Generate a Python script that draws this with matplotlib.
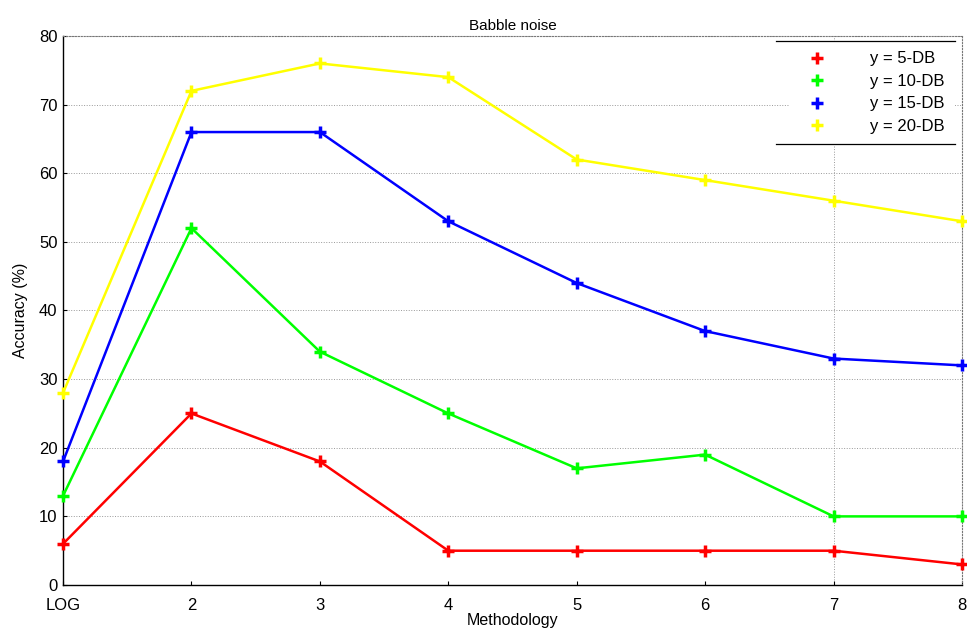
import matplotlib.pyplot as plt
from matplotlib.lines import Line2D

plt.rcParams['font.family'] = ['Liberation Sans', 'DejaVu Sans']

methods = [1, 2, 3, 4, 5, 6, 7, 8]
method_labels = ['LOG', '2', '3', '4', '5', '6', '7', '8']

acc_5db = [6, 25, 18, 5, 5, 5, 5, 3]
acc_10db = [13, 52, 34, 25, 17, 19, 10, 10]
acc_15db = [18, 66, 66, 53, 44, 37, 33, 32]
acc_20db = [28, 72, 76, 74, 62, 59, 56, 53]

series = [
    ('y = 5-DB', acc_5db, '#ff0000'),
    ('y = 10-DB', acc_10db, '#00ff00'),
    ('y = 15-DB', acc_15db, '#0000ff'),
    ('y = 20-DB', acc_20db, '#ffff00'),
]

fig = plt.figure(figsize=(9.67, 6.3), dpi=100)
ax = fig.add_axes([0.0652, 0.0714, 0.9296, 0.8715])

for label, vals, color in series:
    ax.plot(methods, vals, '-', color=color, lw=1.8, marker='+',
            ms=9, mew=2.5, label=label, clip_on=False, zorder=3)

ax.set_xlim(1, 8)
ax.set_ylim(0, 80)
ax.set_xticks(methods)
ax.set_xticklabels(method_labels)
ax.set_yticks(range(0, 81, 10))
ax.tick_params(direction='in', length=3, labelsize=12)
ax.tick_params(axis='x', pad=9)
ax.tick_params(axis='y', pad=4)

# horizontal dotted grid, plus the lone vertical one at 7
ax.yaxis.grid(True, linestyle=':', color='#999999', lw=0.7)
ax.axvline(7, linestyle=':', color='#999999', lw=0.7, zorder=0)
ax.set_axisbelow(True)

for side in ['top', 'right']:
    ax.spines[side].set_linestyle(':')
    ax.spines[side].set_color('#777777')
for side in ['left', 'bottom']:
    ax.spines[side].set_linewidth(1.0)

ax.set_title('Babble noise', fontsize=11, pad=4)
ax.set_xlabel('Methodology', fontsize=11.5, labelpad=0)
ax.set_ylabel('Accuracy (%)', fontsize=11.5, labelpad=8)

handles = [Line2D([], [], ls='none', marker='+', ms=9, mew=2.5, color=c)
           for _, _, c in series]
leg = ax.legend(handles, [s[0] for s in series], loc='upper right',
                bbox_to_anchor=(0.992, 0.99), fontsize=12,
                frameon=True, fancybox=False, handletextpad=2.2,
                borderpad=0.6, labelspacing=0.45, borderaxespad=0)
leg.get_frame().set_edgecolor('none')
leg.get_frame().set_facecolor('white')
leg.get_frame().set_alpha(1)
leg.set_zorder(5)

# legend only shows top and bottom rules
fig.canvas.draw()
bb = leg.get_window_extent().transformed(fig.transFigure.inverted())
for yy in (bb.y0, bb.y1):
    fig.add_artist(Line2D([bb.x0 - 0.015, bb.x1], [yy, yy], color='black', lw=0.9))

fig.savefig('out.png', dpi=100)
